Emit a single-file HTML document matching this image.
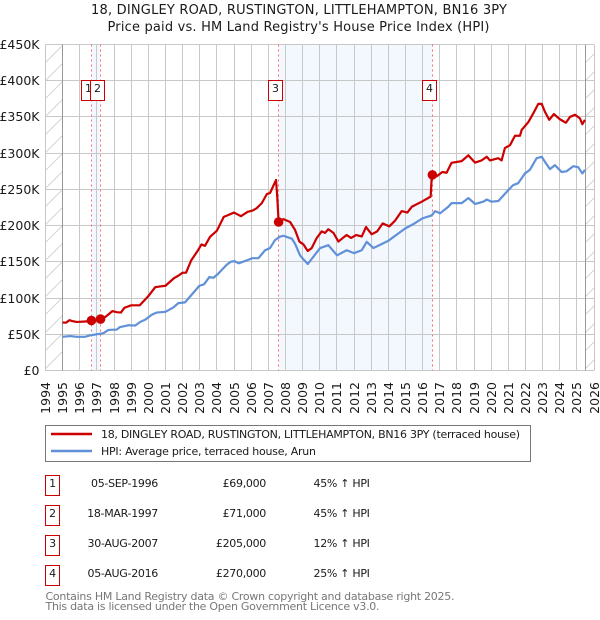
<!DOCTYPE html>
<html><head><meta charset="utf-8"><title>House price chart</title>
<style>
html,body{margin:0;padding:0;background:#fff;width:600px;height:620px;overflow:hidden}
svg{display:block}
text{font-family:"DejaVu Sans","Liberation Sans",sans-serif;fill:#1a1a1a}
</style></head>
<body>
<svg id="chart" xmlns="http://www.w3.org/2000/svg" width="600" height="620" viewBox="0 0 600 620">
<defs>
<pattern id="hatch" patternUnits="userSpaceOnUse" width="18" height="18"><path d="M-2 20L20 -2M-2 2L2 -2M16 20L20 16" stroke="#d4d4d4" stroke-width="1" fill="none"/></pattern>
</defs>
<text x="299" y="14" text-anchor="middle" font-size="13" textLength="416">18, DINGLEY ROAD, RUSTINGTON, LITTLEHAMPTON, BN16 3PY</text>
<text x="298.5" y="31" text-anchor="middle" font-size="13" textLength="382">Price paid vs. HM Land Registry's House Price Index (HPI)</text>
<g id="plot"></g>

<g>
<rect x="45.5" y="425.5" width="485" height="36" fill="#fff" stroke="#777"/>
<line x1="51" y1="434" x2="92" y2="434" stroke="#cc0000" stroke-width="2.4"/>
<text x="101" y="438" font-size="11" textLength="419">18, DINGLEY ROAD, RUSTINGTON, LITTLEHAMPTON, BN16 3PY (terraced house)</text>
<line x1="51" y1="451" x2="92" y2="451" stroke="#6090d8" stroke-width="2.4"/>
<text x="101" y="455" font-size="11" textLength="215">HPI: Average price, terraced house, Arun</text>
</g>

<g font-size="11" letter-spacing="-0.3">
<g>
<rect x="45.5" y="475.5" width="14" height="20" fill="#fff" stroke="#cc0000"/>
<text x="52.5" y="487" text-anchor="middle">1</text>
<text x="158" y="487" text-anchor="end">05-SEP-1996</text>
<text x="266" y="487" text-anchor="end">£69,000</text>
<text x="313.5" y="487">45% ↑ HPI</text>
</g>
<g>
<rect x="45.5" y="505.5" width="14" height="20" fill="#fff" stroke="#cc0000"/>
<text x="52.5" y="517" text-anchor="middle">2</text>
<text x="158" y="517" text-anchor="end">18-MAR-1997</text>
<text x="266" y="517" text-anchor="end">£71,000</text>
<text x="313.5" y="517">45% ↑ HPI</text>
</g>
<g>
<rect x="45.5" y="535.5" width="14" height="20" fill="#fff" stroke="#cc0000"/>
<text x="52.5" y="547" text-anchor="middle">3</text>
<text x="158" y="547" text-anchor="end">30-AUG-2007</text>
<text x="266" y="547" text-anchor="end">£205,000</text>
<text x="313.5" y="547">12% ↑ HPI</text>
</g>
<g>
<rect x="45.5" y="565.5" width="14" height="20" fill="#fff" stroke="#cc0000"/>
<text x="52.5" y="577" text-anchor="middle">4</text>
<text x="158" y="577" text-anchor="end">05-AUG-2016</text>
<text x="266" y="577" text-anchor="end">£270,000</text>
<text x="313.5" y="577">25% ↑ HPI</text>
</g>
</g>
<text x="45.5" y="600" font-size="11" style="fill:#777" textLength="409">Contains HM Land Registry data © Crown copyright and database right 2025.</text>
<text x="45.5" y="610" font-size="11" style="fill:#777" textLength="334">This data is licensed under the Open Government Licence v3.0.</text>
</svg>
<script>
const yearTicks = [1994,1995,1996,1997,1998,1999,2000,2001,2002,2003,2004,2005,2006,2007,2008,2009,2010,2011,2012,2013,2014,2015,2016,2017,2018,2019,2020,2021,2022,2023,2024,2025,2026];
const priceTicks = [0,50,100,150,200,250,300,350,400,450];
const priceTickLabels = ["£0","£50K","£100K","£150K","£200K","£250K","£300K","£350K","£400K","£450K"];
const saleDates = [1996.68,1997.21,2007.60,2016.57];
const salePrices = [69,71,205,270];
const saleLabels = ["1","2","3","4"];
const dataStart = 1995;
const dataEnd = 2025.5;
const priceYears = [1995,1995.2,1995.4,1995.6,1995.82,1996.2,1996.5,1996.68,1996.95,1997.21,1997.5,1997.9,1998.16,1998.4,1998.6,1999,1999.5,2000,2000.4,2000.7,2001,2001.5,2001.8,2002,2002.2,2002.5,2002.9,2003.1,2003.3,2003.6,2004,2004.4,2004.7,2005,2005.4,2005.8,2006.1,2006.32,2006.62,2006.91,2007.1,2007.45,2007.52,2007.6,2007.88,2008.27,2008.56,2008.81,2009.05,2009.3,2009.53,2009.82,2010.11,2010.31,2010.5,2010.8,2011.09,2011.35,2011.57,2011.83,2012.12,2012.45,2012.7,2013.03,2013.35,2013.67,2014.06,2014.4,2014.78,2015.11,2015.37,2015.95,2016.47,2016.52,2016.57,2016.82,2017.15,2017.4,2017.69,2018.28,2018.67,2019.06,2019.44,2019.74,2019.93,2020.42,2020.61,2020.8,2021.1,2021.39,2021.68,2021.78,2022.17,2022.46,2022.75,2022.95,2023.14,2023.39,2023.66,2024,2024.36,2024.6,2024.89,2025.18,2025.32,2025.47];
const priceValues = [66.3,66,69.5,68,67,67.5,68,69,69,71,74,82,80.5,80,86.5,90,90,102.6,115,116,117,127.5,131.6,135,135,152,166,174,172,184.5,193,212,215,218,213,219,221,224,231,243.5,245,263,240,205,209,205,194,178,174,165,169,182.7,192,190,195,190,178,183,187,183,187,185,198,188,192,203,199,207,220,218,226,233,240,262,270,268,274,273,286.7,289,297,287,290,295,290,293,290,307,311,324,324,332,343,355,368,368,357,346,354,347,342,350,353,348,340,346];
const hpiYears = [1995,1995.43,1995.82,1996.31,1996.6,1996.99,1997.38,1997.67,1998.16,1998.35,1998.84,1999.23,1999.52,1999.81,2000.2,2000.49,2001,2001.46,2001.75,2002.14,2002.43,2002.98,2003.25,2003.56,2003.8,2004.05,2004.57,2004.8,2005.02,2005.27,2005.74,2006.07,2006.42,2006.81,2007.1,2007.39,2007.66,2007.88,2008.37,2008.56,2008.85,2008.99,2009.3,2010.02,2010.5,2011.01,2011.57,2012,2012.45,2012.74,2013.13,2014,2014.98,2015.46,2015.99,2016.53,2016.73,2017.02,2017.5,2017.69,2018.28,2018.67,2019.06,2019.54,2019.74,2020.03,2020.42,2021,2021.29,2021.58,2021.97,2022.26,2022.65,2022.95,2023.14,2023.43,2023.72,2024.11,2024.4,2024.79,2025.08,2025.32,2025.47];
const hpiValues = [46.5,47.5,46.5,46.5,48.5,50,51.5,56,56.5,60,62.5,62,67,70,77,80,81,87,93,94,102,117,119,129,128,133,146,150,151,148,152,155,155,166,169,180,184.5,186,182,175,159,155,147,169,173,159,166,162,166,177.6,169,179,196,202,210,214,220,217,226,231,231,238,230,233,236,233,234,249,256,258.6,272,277,293,295,288,278,283.5,274,275,282,280.6,272,277];

const NS = 'http://www.w3.org/2000/svg';
const plot = document.getElementById('plot');
const xLeft = 45.5, xRight = 594, yBase = 370.5, yTop = 44.5;
function xScale(year){ return xLeft + (year - 1994) * (xRight - xLeft) / 32; }
function yScale(k){ return yBase - k * (yBase - yTop) / 450; }
function mk(tag, attrs){
  const el = document.createElementNS(NS, tag);
  for (const k in attrs) el.setAttribute(k, attrs[k]);
  plot.appendChild(el);
  return el;
}
function pathOf(xs, ys){
  return xs.map((v, i) => (i ? 'L' : 'M') + xScale(v).toFixed(2) + ' ' + yScale(ys[i]).toFixed(2)).join('');
}
const snap = v => Math.round(v - 0.5) + 0.5;

const bgShade = [[saleDates[0], saleDates[1]], [saleDates[2], saleDates[3]]];
bgShade.forEach(function(p){
  const el = mk('rect', {x: xScale(p[0]), y: yTop, width: xScale(p[1]) - xScale(p[0]), height: yBase - yTop, fill: '#f3f7fe'});
  
  
});
const hatchL = mk('rect', {x: xLeft, y: yTop, width: xScale(dataStart) - xLeft, height: yBase - yTop, fill: 'url(#hatch)'});


const hatchR = mk('rect', {x: xScale(dataEnd), y: yTop, width: xRight - xScale(dataEnd), height: yBase - yTop, fill: 'url(#hatch)'});



yearTicks.forEach(function(yr){
  const px = snap(xScale(yr));
  const g = mk('line', {x1: px, x2: px, y1: yTop, y2: yBase, stroke: '#c8c8c8', 'stroke-width': 1});
  
  
  const t = mk('text', {transform: 'translate(' + (px + 4.5) + ' 382) rotate(-90)', 'text-anchor': 'end', 'font-size': 12.5});
  t.textContent = yr;
  
  
});
priceTicks.forEach(function(v, i){
  const py = snap(yScale(v));
  const g = mk('line', {x1: xLeft, x2: xRight, y1: py, y2: py, stroke: '#c8c8c8', 'stroke-width': 1});
  
  
  const t = mk('text', {x: 39.5, y: py + 4.5, 'text-anchor': 'end', 'font-size': 12.5});
  t.textContent = priceTickLabels[i];
  
  
});
[dataStart, dataEnd].forEach(function(yr){
  const px = snap(xScale(yr));
  const b = mk('line', {x1: px, x2: px, y1: yTop, y2: yBase, stroke: '#999', 'stroke-width': 1});
  
  
});

saleDates.forEach(function(d){
  const px = snap(xScale(d));
  const l = mk('line', {x1: px, x2: px, y1: yTop, y2: yBase, stroke: '#ff6b6b', 'stroke-width': 1, 'stroke-dasharray': '2 3'});
  
  
});

const hpiLine = mk('path', {d: pathOf(hpiYears, hpiValues), fill: 'none', stroke: '#6090d8', 'stroke-width': 2.2, 'stroke-linejoin': 'round'});


const priceLine = mk('path', {d: pathOf(priceYears, priceValues), fill: 'none', stroke: '#cc0000', 'stroke-width': 2.2, 'stroke-linejoin': 'round'});



saleDates.forEach(function(d, i){
  const c = mk('circle', {cx: xScale(d), cy: yScale(salePrices[i]), r: 4.8, fill: '#cc0000'});
  
  
});
saleDates.forEach(function(d, i){
  const px = snap(xScale(d));
  const r = mk('rect', {x: px - 10, y: 80.5, width: 14, height: 20, fill: '#fff', stroke: '#cc0000', 'stroke-width': 1});
  
  
  const t = mk('text', {x: px - 3, y: 92, 'text-anchor': 'middle', 'font-size': 11});
  t.textContent = saleLabels[i];
  
  
});
</script>
</body></html>
